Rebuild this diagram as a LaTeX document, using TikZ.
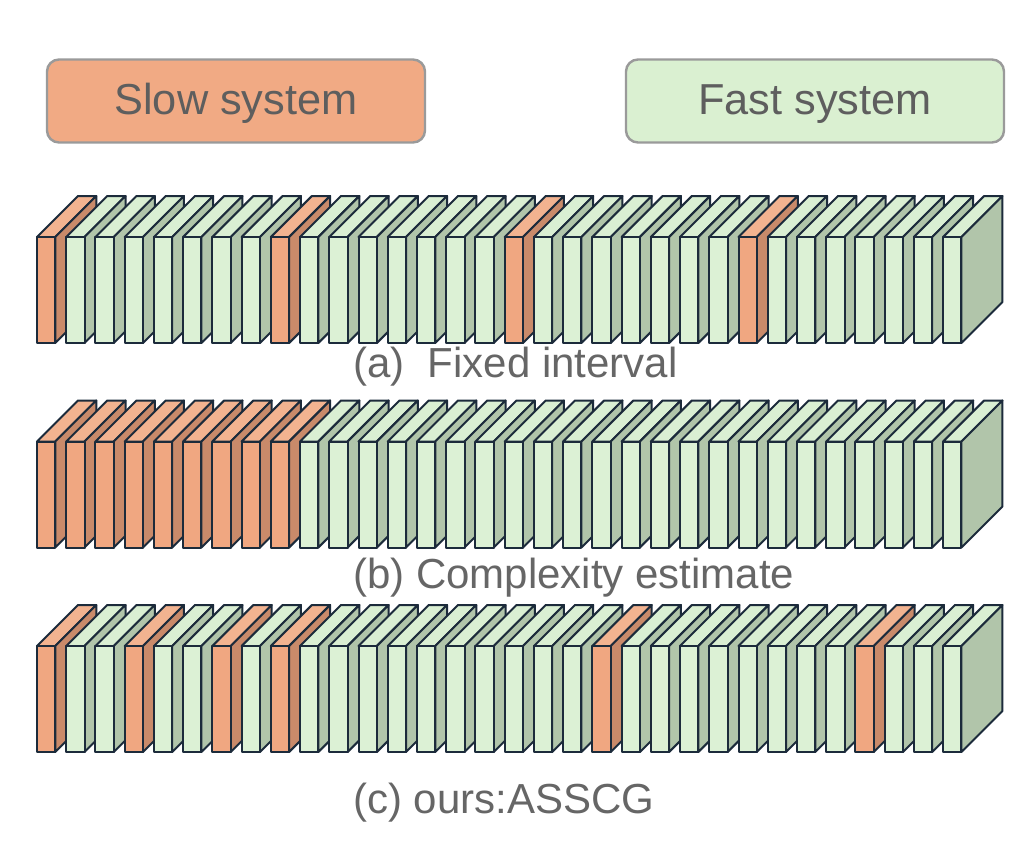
\documentclass[tikz,border=0pt]{standalone}
\usepackage{fontspec}
\setmainfont{Liberation Sans}
\definecolor{oT}{HTML}{F2B390}
\definecolor{oF}{HTML}{F0A781}
\definecolor{oS}{HTML}{C98A6A}
\definecolor{gT}{HTML}{DAEFD3}
\definecolor{gF}{HTML}{DCF1D5}
\definecolor{gS}{HTML}{B1C5AA}
\definecolor{edge}{HTML}{1C2B3B}
\definecolor{slowfill}{HTML}{F1AA84}
\definecolor{fastfill}{HTML}{DAF0D1}
\definecolor{boxline}{HTML}{9A9A9A}
\definecolor{legtext}{HTML}{5E5E5E}
\definecolor{labtext}{HTML}{666666}
\newcommand\drawslab[3]{%
  \filldraw[slabline,fill=#3T] (#1,#2) -- ++(41,-41) -- ++(18.3,0) -- ++(-41,41) -- cycle;
  \filldraw[slabline,fill=#3S] (#1+18.3,#2) -- ++(41,-41) -- ++(0,106) -- ++(-41,41) -- cycle;
  \filldraw[slabline,fill=#3F] (#1,#2) rectangle ++(18.3,106);
}
\begin{document}
\begin{tikzpicture}[x=0.75pt,y=-0.75pt,
  slabline/.style={draw=edge,line width=1.5pt,line join=round},
  legend/.style={draw=boxline,line width=1.8pt,rounded corners=9pt,minimum width=283.5pt,minimum height=62.25pt},
  legendtext/.style={anchor=base,inner sep=0pt,text=legtext,font=\fontsize{32.5}{38}\selectfont},
  caption/.style={anchor=base west,inner sep=0pt,text=labtext,font=\fontsize{31.5}{38}\selectfont}]
\useasboundingbox (0,0) rectangle (1015,847);
\fill[white] (0,0) rectangle (1015,847);
% legend
\node[legend,fill=slowfill] (slow) at (236,101) {};
\node[legendtext] (slowtxt) at (236,114.5) {Slow system};
\node[legend,fill=fastfill] (fast) at (815,101) {};
\node[legendtext] (fasttxt) at (815,114.5) {Fast system};
% row a
\foreach \t [count=\i from 0] in {o,g,g,g,g,g,g,g,o,g,g,g,g,g,g,g,o,g,g,g,g,g,g,g,o,g,g,g,g,g,g,g}{
  \pgfmathsetmacro\xx{37+\i*29.23}
  \drawslab{\xx}{237}{\t}
}
% row b
\foreach \t [count=\i from 0] in {o,o,o,o,o,o,o,o,o,g,g,g,g,g,g,g,g,g,g,g,g,g,g,g,g,g,g,g,g,g,g,g}{
  \pgfmathsetmacro\xx{37+\i*29.23}
  \drawslab{\xx}{441.5}{\t}
}
% row c
\foreach \t [count=\i from 0] in {o,g,g,o,g,g,o,g,o,g,g,g,g,g,g,g,g,g,g,o,g,g,g,g,g,g,g,g,o,g,g,g}{
  \pgfmathsetmacro\xx{37+\i*29.23}
  \drawslab{\xx}{646}{\t}
}
\node[caption] (capa) at (353,377) {(a)\ \ Fixed interval};
\node[caption] (capb) at (353,588) {(b) Complexity estimate};
\node[caption] (capc) at (353,813) {(c) ours:ASSCG};
\end{tikzpicture}
\end{document}
